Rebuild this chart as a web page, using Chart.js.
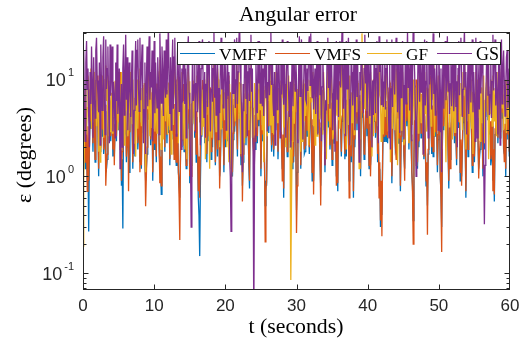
<!DOCTYPE html>
<html><head><meta charset="utf-8">
<script src="https://cdn.jsdelivr.net/npm/chart.js@4"></script>
<style>html,body{margin:0;padding:0;background:#fff;overflow:hidden}canvas{display:block}</style>
</head><body>
<canvas id="c" width="529" height="341"></canvas>
<script>
// ---- data ----
const dt = 0.1; // sampling step (seconds)
const seriesNames = ['VMFF', 'VMFS', 'GF', 'GS'];
const seriesColors = ['#0072BD', '#D95319', '#EDB120', '#7E2F8E'];
const vmff = [
2.1,3.8,2.6,1.2,4.8,2.2,0.9,1.6,0.27,1.9,5.5,3.1,7.1,3.9,1.8,5.4,3.6,1.4,4.1,6.6,9.4,3.2,1.0,4.4,1.8,3.6,7.2,2.6,6.0,1.7,2.3,4.7,1.1,1.2,1.5,5.4,8.5,3.0,4.8,2.3,
3.9,6.1,1.6,3.5,1.6,3.0,6.5,2.3,6.7,4.1,3.0,7.3,10,4.6,0.8,1.5,0.29,4.6,8.4,2.7,5.1,1.4,2.0,5.8,2.3,1.1,3.8,7.0,8.8,3.4,1.2,4.2,3.0,1.6,5.9,8.7,5.7,1.9,2.7,4.8,
1.4,3.2,1.2,4.3,7.6,2.8,5.0,1.5,0.9,1.2,1.7,6.0,11,3.9,7.6,2.1,3.5,6.4,0.9,2.7,1.9,5.0,3.3,1.4,8.0,2.9,6.1,1.9,1.2,1.4,0.65,2.6,5.2,8.2,4.0,1.8,9.6,4.4,2.2,5.6,
2.8,5.7,1.3,3.4,6.3,2.4,8.7,3.7,1.7,4.9,2.9,1.3,8.9,3.6,1.1,0.9,0.6,1.6,4.6,2.0,5.4,8.1,1.8,4.1,2.5,1.2,6.9,3.1,10,4.9,0.85,2.3,1.3,3.3,3.5,6.5,7.2,2.5,5.6,1.4,
4.1,1.7,0.6,0.4,0.15,0.9,2.6,5.9,8.7,3.5,8.0,2.2,2.6,5.2,1.4,3.4,5.8,2.3,4.9,7.6,1.5,3.8,2.0,6.5,12,5.0,1.3,2.8,4.4,1.6,6.3,3.9,1.0,1.3,3.2,5.9,7.5,2.8,1.1,4.2,
2.0,4.8,5.3,2.3,9.8,4.0,2.4,6.6,1.4,2.6,1.0,2.4,5.5,2.9,4.2,7.8,3.6,1.6,8.5,4.4,8.3,3.1,1.3,4.1,0.8,1.4,3.0,5.6,6.4,2.1,6.0,3.5,3.2,1.3,0.75,5.2,11,6.1,4.5,2.2,
1.7,3.7,1.9,6.2,4.9,2.2,7.1,3.3,8.9,4.3,1.0,2.9,2.3,5.5,3.6,1.4,0.5,0.9,0.8,3.4,7.0,2.8,5.7,8.6,4.0,1.8,2.5,6.2,1.6,3.9,7.8,3.0,10,5.0,1.5,2.8,5.3,7.9,4.9,2.0,
1.2,2.4,0.6,3.6,7.9,4.2,3.1,1.6,3.0,6.2,5.5,2.0,6.4,3.4,1.2,4.7,1.4,3.5,8.2,2.7,0.45,1.1,2.2,5.3,9.7,3.9,1.2,3.0,4.3,7.1,3.9,1.7,1.8,4.5,6.6,2.6,7.4,4.0,1.7,5.9,
5.0,2.5,0.9,3.4,0.9,2.0,5.2,8.1,8.8,3.6,2.8,5.6,3.2,1.5,0.8,1.7,6.9,3.0,7.4,3.9,1.1,4.4,2.4,6.3,10,3.2,4.1,1.9,2.5,5.0,1.3,3.1,5.4,2.2,6.1,2.6,1.0,2.0,0.7,4.3,
8.4,4.2,3.3,1.6,3.7,7.8,6.8,2.9,1.5,3.9,1.6,5.2,11,3.6,0.9,1.8,4.7,1.4,4.7,7.1,0.6,2.8,2.0,4.9,7.3,3.0,8.9,3.8,2.7,6.0,1.0,4.1,9.6,5.1,3.4,1.5,1.8,4.2,5.8,2.6,
5.9,2.6,1.2,4.0,1.3,2.0,2.7,5.9,8.7,3.7,6.3,2.5,3.9,7.4,1.4,2.7,0.8,1.2,0.3,0.8,0.4,1.4,4.4,2.3,6.6,3.2,2.3,5.2,2.2,4.3,7.5,3.0,8.1,3.6,0.85,2.6,4.5,6.5,3.8,1.8,
1.9,3.4,5.4,2.2,10,4.4,0.7,2.3,3.4,6.3,3.1,1.6,1.2,3.6,8.5,3.3,7.1,3.8,1.9,5.9,5.2,2.4,1.1,0.8,0.35,1.3,5.0,2.7,8.7,4.1,1.2,2.8,2.0,5.2,6.4,2.5,6.2,3.9,2.6,1.5,
4.2,2.0,0.8,1.2,0.5,1.7,4.3,7.4,9.5,3.5,1.7,4.8,1.6,3.7,7.3,2.6,5.7,3.1,1.1,2.4,2.8,5.4,1.0,0.7,0.3,2.1,5.6,3.0,7.8,4.2,2.9,6.8,4.9,1.8,0.75,3.2,1.5,2.3,4.8,3.4,
7.6,3.9,2.2,5.1,2.5,1.3,6.7,3.2,11,5.1,0.9,2.0,1.0,1.8,3.6,7.0,5.3,2.4,0.6,3.0,3.8,1.6,8.1,3.6,8.7,4.8,2.6,1.1,1.4,4.0,1.4,2.9,6.4,3.2,5.3,2.4,1.2,1.5,1.9,4.2,
5.1,2.3,1.0,3.0,1.9,5.5,4.1,8.2,9.6,3.8,7.6,2.7,3.2,1.3,1.5,3.3,0.9,1.6,0.55,2.7,7.0,3.6,5.1,2.2,3.8,6.3,2.5,4.6,10,4.0,6.2,1.9,1.7,3.1,1.0,4.3,5.8,2.4,3.6,1.6,
2.6];
const vmfs = [
1.6,4.5,3.0,1.4,5.2,2.5,0.7,3.3,0.9,2.1,6.1,3.7,8.3,4.6,2.2,6.4,3.1,1.5,4.9,7.8,11,3.8,1.2,5.0,2.0,4.2,8.0,3.1,6.9,1.9,2.8,5.5,0.8,1.3,1.7,6.3,9.7,3.5,5.4,2.6,
4.4,7.0,1.9,4.1,1.3,3.4,7.3,2.6,7.5,4.7,3.6,8.5,12,5.3,0.9,1.8,2.6,5.6,9.1,3.0,5.8,1.6,2.5,6.7,0.7,2.9,4.4,8.1,10,3.9,1.4,4.8,3.5,1.9,6.6,10,6.4,2.2,3.2,5.4,
1.1,3.6,1.3,5.0,8.8,3.2,5.8,1.7,0.49,1.0,2.0,6.9,13,4.5,8.4,2.4,4.0,7.4,1.1,3.1,2.2,5.7,3.9,1.6,9.1,3.4,6.9,2.2,0.85,1.6,0.8,3.0,5.9,9.2,4.6,2.0,11,5.1,2.7,6.2,
3.3,6.5,1.5,3.8,7.0,2.7,9.6,4.2,1.5,5.6,3.4,1.4,10,4.1,1.2,0.6,0.22,1.8,5.2,2.3,6.1,9.0,2.1,4.6,2.9,1.3,7.7,3.5,12,5.6,1.0,2.6,1.0,3.7,4.1,7.2,8.0,2.9,6.3,1.7,
4.7,2.0,0.7,1.6,0.6,2.4,3.1,6.8,9.9,4.0,8.8,2.5,3.0,6.0,1.7,3.9,6.6,2.6,5.5,8.3,1.8,4.3,2.4,7.0,14,5.8,1.4,3.2,5.0,1.9,7.1,4.4,0.75,1.5,3.8,6.4,8.6,3.5,1.3,4.9,
2.4,5.3,6.0,2.7,11,4.6,2.9,7.4,1.2,3.0,1.1,2.8,6.3,3.3,4.8,8.7,4.1,1.9,9.3,5.0,9.4,3.6,1.6,4.7,0.55,1.7,3.5,6.2,7.2,2.5,6.7,4.0,3.8,1.5,0.9,5.9,13,6.9,5.1,2.7,
1.4,4.3,2.3,6.9,5.5,2.6,7.9,3.8,10,4.9,1.2,3.4,2.7,6.2,4.2,1.6,0.21,0.7,0.9,3.9,8.1,3.3,6.4,9.7,4.6,2.1,3.0,7.0,1.9,4.4,8.6,3.6,12,5.7,1.8,3.2,6.0,8.8,5.6,2.4,
0.9,2.7,0.75,4.2,9.0,4.9,3.7,1.8,3.4,7.1,6.2,2.3,7.3,3.9,1.4,5.3,1.6,4.0,9.0,3.1,0.26,0.8,2.6,6.0,11,4.4,1.3,3.5,4.9,8.0,4.5,1.9,2.1,5.1,7.4,3.0,8.5,4.6,2.0,6.6,
5.7,2.8,1.1,3.9,0.65,2.2,5.9,9.3,10,4.1,3.3,6.4,3.6,1.7,0.5,1.9,7.8,3.4,8.2,4.5,1.3,5.1,2.8,7.2,12,3.7,4.7,2.1,2.8,5.8,1.5,3.6,6.2,2.5,6.8,3.0,0.8,2.3,0.85,4.9,
9.6,4.8,3.9,1.8,4.2,8.8,7.6,3.3,1.7,4.5,1.9,6.1,13,4.0,0.6,2.0,5.3,1.6,5.3,8.0,0.7,3.2,2.4,5.5,8.4,3.5,9.8,4.3,3.1,6.9,1.2,4.6,11,5.9,4.0,1.7,2.0,4.7,6.5,3.1,
6.8,2.9,1.3,4.6,1.0,2.3,3.2,6.7,10,4.2,7.0,2.8,4.5,8.5,1.7,3.0,0.6,1.4,0.35,0.9,0.24,1.6,5.0,2.6,7.6,3.6,2.7,6.0,2.5,4.9,8.3,3.4,9.3,4.1,1.0,2.9,5.1,7.3,4.4,2.1,
1.5,3.9,6.1,2.5,12,5.0,0.8,2.6,3.9,7.1,3.6,1.8,0.9,4.0,9.4,3.7,8.2,4.3,2.2,6.6,6.0,2.7,1.2,0.7,0.2,1.5,5.7,3.0,10,4.6,1.4,3.1,2.3,5.9,7.2,2.8,7.1,4.4,3.1,1.6,
4.8,2.3,0.9,1.4,0.25,1.9,4.9,8.2,11,3.8,2.0,5.4,1.8,4.1,8.1,2.9,6.5,3.5,1.3,2.7,3.2,6.0,1.1,0.6,0.165,2.4,6.3,3.3,9.0,4.7,3.4,7.5,5.6,2.0,0.9,3.6,1.2,2.6,5.5,3.9,
8.7,4.4,2.6,5.8,2.9,1.5,7.5,3.7,13,5.9,1.1,2.4,0.8,2.1,4.2,7.9,6.1,2.7,0.7,3.4,4.3,1.9,9.0,4.1,10,5.6,3.0,1.3,1.6,4.5,1.6,3.2,7.4,3.6,6.0,2.8,0.95,1.7,2.3,4.8,
5.9,2.6,1.2,3.4,2.2,6.2,4.7,9.1,11,4.3,8.5,3.0,3.7,1.5,1.8,3.8,0.7,1.9,0.65,3.1,8.0,4.0,5.8,2.5,4.4,7.0,2.9,5.3,12,4.6,7.0,2.2,1.4,3.5,1.2,4.7,6.7,2.7,4.1,1.8,
3.0];
const gf = [
0.19,0.9,2.4,8.0,6.2,2.7,5.1,11,9.5,4.0,7.8,13,3.1,6.9,3.6,9.4,12,5.2,9.9,3.3,4.7,8.6,1.8,4.9,1.4,3.8,6.4,11,8.1,2.5,4.2,10,14,6.0,11,3.9,2.6,7.4,2.9,5.8,
7.3,2.8,8.5,4.1,5.0,9.7,3.8,7.9,11,3.0,5.6,8.8,1.9,6.1,12,4.4,6.8,11,2.1,7.6,15,4.8,7.0,2.6,3.4,9.3,4.5,12,9.0,3.5,10,5.4,2.2,6.5,1.6,4.7,10,3.1,6.7,9.6,
13,5.9,3.3,8.2,4.1,2.3,9.2,3.9,1.1,6.8,5.0,11,7.6,3.6,2.6,8.4,5.5,3.2,13,7.1,12,2.9,4.0,9.0,2.8,5.3,7.5,12,16,6.2,1.9,4.6,6.4,2.4,8.8,11,3.7,7.8,5.4,2.7,
9.3,4.5,3.0,6.7,1.7,5.1,10,3.4,14,8.0,6.3,2.8,6.0,11,2.2,7.3,10,4.2,7.9,12,2.4,6.0,4.7,1.9,8.2,4.0,1.5,6.9,13,5.0,9.6,2.6,1.3,5.7,3.5,9.8,5.8,3.0,6.1,8.9,
11,4.9,11,6.4,3.6,8.6,2.7,5.3,7.9,3.3,5.8,10,1.5,4.4,8.2,12,9.6,3.7,1.2,6.2,4.9,2.5,6.9,11,17,7.6,4.3,2.9,6.3,13,10,4.6,2.0,7.0,3.1,9.5,12,5.6,7.4,3.8,
8.0,4.2,2.0,6.3,3.2,1.4,9.0,3.5,1.0,2.9,5.2,8.1,10,4.7,3.7,7.2,14,6.6,12,3.9,5.3,9.1,1.7,4.0,1.6,5.7,6.5,2.2,9.4,12,4.4,7.5,6.9,3.0,8.7,11,15,6.0,2.5,5.1,
2.5,9.2,7.2,3.2,4.4,8.3,3.9,6.8,12,4.9,11,5.5,3.0,7.8,1.4,4.3,8.5,11,5.9,2.6,6.1,10,8.0,3.4,16,6.3,2.8,9.0,2.7,5.0,6.6,12,10,3.6,4.1,8.2,5.2,2.9,9.8,6.4,
13,6.7,3.2,8.9,3.9,2.0,13,4.8,7.7,11,5.5,1.9,0.085,0.6,2.3,6.4,11,3.5,7.7,12,4.6,8.0,4.6,2.4,14,5.9,1.8,6.8,2.3,8.6,10,3.7,9.1,4.2,6.0,10,5.7,2.1,3.4,9.7,
15,5.8,8.4,12,3.3,7.5,2.1,5.0,6.6,2.6,6.8,10,12,3.9,4.9,8.3,5.1,2.7,12,6.2,1.8,4.4,1.5,7.9,13,5.6,7.3,3.2,7.4,11,5.3,2.4,2.9,6.8,2.9,4.5,11,4.3,9.4,3.8,
8.7,3.1,4.0,9.9,17,7.0,6.2,2.8,4.0,8.5,1.9,5.4,10,3.4,11,6.0,2.1,7.4,3.6,10,6.5,2.7,8.1,12,14,4.6,5.7,9.2,1.2,3.9,2.4,8.0,30,13,10,5.0,15,7.8,4.8,9.6,
5.6,10,7.0,3.5,12,5.9,1.6,4.8,2.6,6.6,9.3,3.7,7.5,11,3.3,8.7,16,6.9,6.4,2.3,3.8,7.1,2.7,5.5,11,4.1,12,7.7,6.2,2.9,5.1,9.8,1.4,4.5,8.6,3.1,9.0,11,3.0,6.5,
13,5.2,1.3,3.9,4.3,9.6,7.8,3.0,8.8,12,4.5,2.1,2.4,6.3,10,5.8,15,7.2,2.2,5.1,6.7,11,6.9,3.4,10,6.1,3.8,8.3,1.3,4.7,9.1,2.8,9.5,13,5.6,3.6,5.9,8.0,1.7,6.9,
12,4.4,8.3,2.9,3.5,8.1,4.2,10,7.1,3.3,11,6.2,14,5.0,2.6,7.0,4.8,11,6.1,3.1,11,7.8,3.5,5.9,1.9,4.1,7.6,12,8.4,3.8,1.4,5.3,16,7.4,9.7,3.2,5.0,9.1,5.0,2.4,
9.7,4.6,2.8,7.3,2.8,5.2,6.7,11,13,3.6,4.3,9.2,6.6,3.0,12,6.8,15,8.5,1.9,4.9,3.7,10,8.0,2.7,10,5.4,3.1,7.5,1.7,6.0,5.8,2.5,12,7.1,10,4.0,6.0,9.4,2.3,6.3,
8.3,3.6,7.1,11,2.2,5.7,4.6,8.9,14,6.4,1.5,4.0,4.5,10,9.0,3.3,11,6.7,3.7,8.2,3.4,2.6,6.3,12,9.2,4.3,2.5,7.0,13,5.1,8.8,3.0,5.5,9.9,5.2,2.8,10,6.1,3.9,8.6,
7.0];
const gs = [
8.5,20,5.2,2.3,15,25,7.9,13,4.1,2.0,12,5.6,22,9.2,2.5,17,6.3,4.0,20,27,9.8,7.1,4.6,15,2.1,23,8.8,4.8,17,28,6.1,2.7,26,8.0,13,22,5.5,2.2,23,6.8,
12,22,2.9,9.5,7.2,2.5,15,6.0,23,4.4,6.6,13,1.2,5.2,9.0,2.0,13,23,4.3,9.8,29,6.2,17,3.0,6.8,15,7.4,4.1,9.1,20,5.0,1.7,4.8,12,25,5.4,20,26,8.1,4.7,
27,6.1,13,23,7.7,2.2,4.9,15,1.7,8.6,22,5.3,15,28,6.2,12,8.3,20,2.3,7.0,25,4.5,15,8.1,5.1,17,9.7,2.7,30,13,5.7,22,12,4.2,20,9.3,6.5,26,7.0,15,
40,8.3,4.4,17,3.0,12,26,5.0,17,27,6.8,2.6,9.4,22,12,4.7,22,7.2,1.9,13,5.8,23,17,5.6,13,2.5,8.4,20,28,7.3,5.3,1.5,0.3,5.5,23,6.0,8.8,15,2.8,9.1,
20,4.6,9.9,25,6.1,2.1,13,23,26,7.7,4.0,12,2.5,8.9,22,5.2,15,25,7.3,2.9,7.9,17,5.9,13,32,6.5,15,4.3,9.6,22,2.4,8.2,4.5,13,27,7.9,23,5.1,6.4,20,
13,3.0,8.9,20,6.9,12,1.6,1.0,0.27,5.8,20,7.2,17,26,5.1,9.9,27,5.6,12,25,40,15,7.8,4.2,1.1,9.0,4.7,15,22,6.3,17,2.6,12,23,6.0,13,29,7.5,13,1.9,
0.03,1.3,2.6,15,7.4,4.5,25,9.1,25,5.7,8.6,20,5.3,13,4.2,23,15,6.4,15,2.9,9.3,22,6.9,17,31,8.8,22,5.9,4.2,12,2.1,7.8,20,4.9,9.2,23,8.1,2.5,17,7.0,
26,9.4,5.5,20,6.6,2.5,12,25,13,6.8,4.1,9.5,2.0,7.1,23,5.3,23,13,7.6,17,9.7,4.8,2.2,12,28,6.7,15,26,5.9,2.4,8.0,20,17,6.2,5.8,13,7.6,22,28,8.7,
30,12,6.5,23,4.9,8.5,13,4.4,12,25,2.7,15,22,6.9,20,2.3,8.4,17,9.4,4.6,1.3,6.1,4.8,20,27,8.2,17,5.0,13,23,7.2,3.0,6.4,15,1.8,9.0,25,6.3,22,4.1,
15,25,8.3,17,33,9.9,5.0,15,7.1,2.6,25,8.0,20,27,6.3,2.1,5.0,22,12,5.4,9.5,20,3.0,8.7,26,6.6,15,4.1,1.4,12,7.7,23,17,6.0,4.5,13,29,9.1,20,4.0,
8.6,22,9.1,4.2,23,7.3,2.0,9.8,4.3,15,17,4.5,13,25,6.7,2.2,28,12,23,5.5,6.7,17,5.2,9.4,22,4.9,13,26,9.2,5.8,2.5,15,1.9,8.0,26,5.2,20,12,7.0,17,
27,12,4.6,22,7.8,2.8,15,6.5,15,25,8.8,2.4,5.7,20,5.6,12,31,8.3,22,4.8,12,17,2.3,8.6,40,20,12,4.5,1.0,4.0,6.4,23,17,5.9,17,7.4,8.9,22,1.7,13,
26,5.4,9.6,25,6.2,2.5,20,8.9,13,23,4.9,12,30,7.1,13,4.3,7.5,17,7.4,3.0,22,9.2,2.9,13,1.1,6.8,23,5.0,15,25,6.1,9.8,28,7.6,15,4.4,9.0,22,5.3,12,
20,4.7,8.5,17,5.2,9.6,2.0,13,25,6.9,22,27,12,4.1,7.9,20,32,8.4,12,2.7,6.9,15,4.4,9.7,17,5.8,17,26,4.6,12,6.6,2.3,27,9.3,2.5,15,8.3,4.9,25,7.2,
13,22,9.0,1.5,0.32,1.3,5.7,15,23,6.8,15,4.3,7.0,17,4.0,9.5,29,7.7,20,26,5.4,12,7.1,2.7,15,23,2.1,8.1,26,5.6,13,20,9.7,4.2,8.2,17,20,5.1,6.3,13,
6.0];
const xTicks = [0, 10, 20, 30, 40, 50, 60];
const yMajor = [0.1, 1, 10];
const yTickLabels = [['10', '-1'], ['10', '0'], ['10', '1']];
const titleText = 'Angular error';
const xTitle = 't (seconds)';
const yTitle = 'ε (degrees)';

const values = [vmff, vmfs, gf, gs];
const nMax = Math.max(...values.map(v => v.length));
const times = Array.from({ length: nMax }, (_, i) => Math.round(i * dt * 100) / 100);

const AX = '#262626';
const SANS = '"Liberation Sans", Arial, sans-serif';
const SERIF = '"Liberation Serif", "Times New Roman", serif';

function fitFont(ctx, text, target, base, family) {
  ctx.font = base + 'px ' + family;
  const w = ctx.measureText(text).width;
  return (base * target / w).toFixed(2) + 'px ' + family;
}

const matlabAxes = {
  id: 'matlabAxes',
  afterDatasetsDraw(chart) {
    const { ctx, chartArea: a, scales: { x, y } } = chart;
    ctx.save();
    ctx.strokeStyle = AX;
    ctx.lineWidth = 1;
    ctx.strokeRect(Math.round(a.left) + 0.5, Math.round(a.top) + 0.5,
      Math.round(a.right - a.left) - 1, Math.round(a.bottom - a.top) - 1);
    ctx.beginPath();
    const L = Math.round(a.left) + 0.5, R = Math.round(a.right) - 0.5;
    const T = Math.round(a.top) + 0.5, B = Math.round(a.bottom) - 0.5;
    for (const t of xTicks) {
      const px = Math.round(x.getPixelForValue(t)) + 0.5;
      const xx = Math.min(Math.max(px, L), R);
      ctx.moveTo(xx, B); ctx.lineTo(xx, B - 5);
      ctx.moveTo(xx, T); ctx.lineTo(xx, T + 5);
    }
    for (const v of yMajor) {
      const py = Math.round(y.getPixelForValue(v)) + 0.5;
      ctx.moveTo(L, py); ctx.lineTo(L + 5, py);
      ctx.moveTo(R, py); ctx.lineTo(R - 5, py);
    }
    for (const d of [0.01, 0.1, 1, 10]) {
      for (let k = 2; k <= 9; k++) {
        const v = k * d;
        if (v < y.min || v > y.max) continue;
        const py = Math.round(y.getPixelForValue(v)) + 0.5;
        ctx.moveTo(L, py); ctx.lineTo(L + 3, py);
        ctx.moveTo(R, py); ctx.lineTo(R - 3, py);
      }
    }
    ctx.stroke();

    ctx.fillStyle = AX;
    ctx.font = '17px ' + SANS;
    ctx.textAlign = 'center';
    ctx.textBaseline = 'alphabetic';
    for (const t of xTicks) {
      ctx.fillText(String(t), x.getPixelForValue(t), 311);
    }
    yMajor.forEach((v, i) => {
      const py = y.getPixelForValue(v);
      const [base, exp] = yTickLabels[i];
      ctx.font = '18px ' + SANS;
      const wb = ctx.measureText(base).width;
      ctx.font = '11px ' + SANS;
      const we = ctx.measureText(exp).width;
      const x0 = 74 - we - 2 - wb;
      ctx.textAlign = 'left';
      ctx.font = '18px ' + SANS;
      ctx.fillText(base, x0, py + 6.5);
      ctx.font = '11px ' + SANS;
      ctx.fillText(exp, x0 + wb + 2, py - 3.5);
    });

    ctx.fillStyle = '#000';
    ctx.textAlign = 'center';
    ctx.font = fitFont(ctx, titleText, 118, 18, SERIF);
    ctx.fillText(titleText, 298, 21);
    ctx.font = fitFont(ctx, xTitle, 95, 18, SERIF);
    ctx.fillText(xTitle, 296, 333);
    ctx.save();
    ctx.translate(31, 155);
    ctx.rotate(-Math.PI / 2);
    ctx.font = fitFont(ctx, yTitle, 96, 18, SERIF);
    ctx.fillText(yTitle, 0, 0);
    ctx.restore();

    const lx = 177, ly = 42, lw = 323, lh = 22;
    ctx.fillStyle = '#fff';
    ctx.fillRect(lx, ly, lw, lh);
    ctx.strokeStyle = AX;
    ctx.lineWidth = 1;
    ctx.strokeRect(lx + 0.5, ly + 0.5, lw, lh);
    const lineX = [180, 275, 367, 437];
    const textW = [48, 47, 22, 23];
    const cy = ly + 11.5;
    seriesNames.forEach((n, i) => {
      ctx.strokeStyle = seriesColors[i];
      ctx.lineWidth = 1.2;
      ctx.beginPath();
      ctx.moveTo(lineX[i], cy); ctx.lineTo(lineX[i] + 35, cy);
      ctx.stroke();
      ctx.fillStyle = '#000';
      ctx.textAlign = 'left';
      ctx.font = fitFont(ctx, n, textW[i], 17, SERIF);
      ctx.fillText(n, lineX[i] + 39, cy + 6);
    });
    ctx.restore();
  }
};

const datasets = seriesNames.map((n, i) => ({
  label: n,
  data: values[i].map((v, j) => ({ x: times[j], y: v })),
  borderColor: seriesColors[i],
  borderWidth: 1.3,
  pointRadius: 0,
  tension: 0,
  fill: false,
  order: seriesNames.length - i
}));

new Chart(document.getElementById('c'), {
  type: 'line',
  data: { datasets },
  options: {
    responsive: false,
    animation: false,
    devicePixelRatio: 1,
    layout: { padding: { left: 83, right: 19, top: 32, bottom: 51 } },
    plugins: { legend: { display: false }, tooltip: { enabled: false }, title: { display: false } },
    scales: {
      x: { type: 'linear', min: 0, max: 60, display: false },
      y: { type: 'logarithmic', min: 0.067, max: 31, display: false }
    }
  },
  plugins: [matlabAxes]
});
</script>
</body></html>
